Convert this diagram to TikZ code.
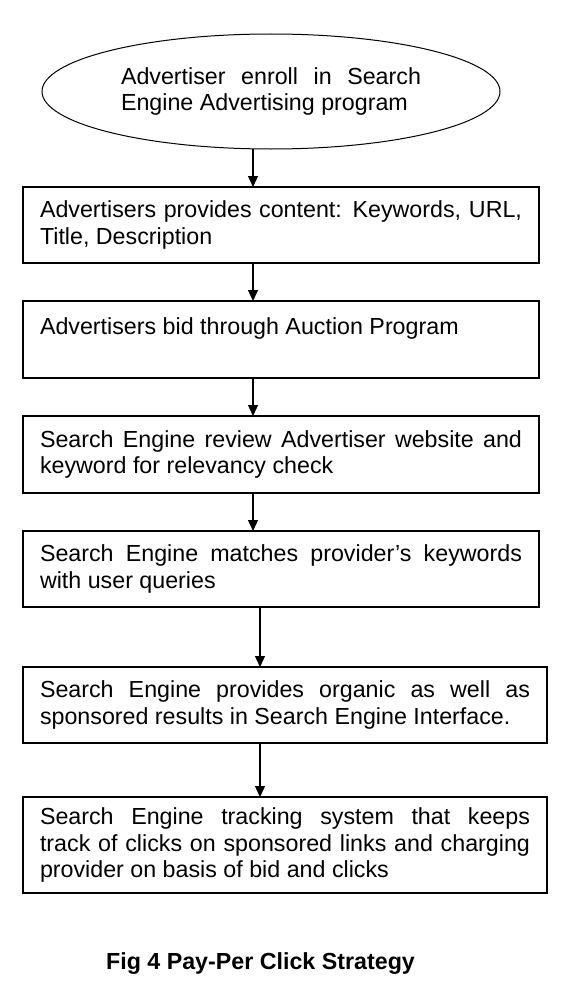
\documentclass[tikz,border=0pt]{standalone}
\usepackage{fontspec}
\setmainfont{Liberation Sans}
\usetikzlibrary{positioning,shapes.geometric,arrows.meta}
\hyphenpenalty=10000
\exhyphenpenalty=10000

\begin{document}
\begin{tikzpicture}[x=1pt, y=-1pt,
  stepbox/.style={rectangle, draw, line width=2pt, minimum width=516pt, minimum height=76pt,
                  text width=482pt, inner xsep=17pt, inner ysep=0pt, outer sep=0pt, align=justify,
                  font=\fontsize{23.25}{26.6}\selectfont},
  widebox/.style={stepbox, minimum width=524pt, text width=490pt},
  startnode/.style={ellipse, draw, line width=1pt, minimum width=458pt, minimum height=115pt,
                    inner sep=0pt, outer sep=0pt, text width=300pt, align=justify,
                    font=\fontsize{23.25}{26.6}\selectfont},
  arrow/.style={-{Triangle[length=11pt, width=10pt]}, line width=1.3pt},
]
\useasboundingbox (0,0) rectangle (581,990);

% Start ellipse
\node[startnode] (ell) at (271,91.5) {Advertiser enroll in Search\linebreak Engine Advertising program};

% Process boxes
\node[stepbox, below=38pt of ell, xshift=10pt] (b1) {Advertisers provides content: Keywords, URL,\linebreak Title, Description};
\node[stepbox, minimum height=77pt, below=38pt of b1] (b2) {Advertisers bid through Auction Program\\\mbox{}};
\node[stepbox, minimum height=77pt, below=38pt of b2] (b3) {Search Engine review Advertiser website and\linebreak keyword for relevancy check};
\node[stepbox, below=38pt of b3] (b4) {Search Engine matches provider’s keywords\linebreak with user queries};
\node[widebox, below=60pt of b4, xshift=4pt] (b5) {Search Engine provides organic as well as\linebreak sponsored results in Search Engine Interface.};
\node[widebox, minimum height=96pt, below=54pt of b5] (b6) {Search Engine tracking system that keeps\linebreak track of clicks on sponsored links and charging\linebreak provider on basis of bid and clicks};

% Arrows
\draw[arrow] ([xshift=-18pt]ell.south) -- ([xshift=-28pt]b1.north);
\draw[arrow] ([xshift=-28pt]b1.south) -- ([xshift=-28pt]b2.north);
\draw[arrow] ([xshift=-28pt]b2.south) -- ([xshift=-28pt]b3.north);
\draw[arrow] ([xshift=-28pt]b3.south) -- ([xshift=-28pt]b4.north);
\draw[arrow] ([xshift=-21pt]b4.south) -- ([xshift=-25pt]b5.north);
\draw[arrow] ([xshift=-25pt]b5.south) -- ([xshift=-25pt]b6.north);

% Caption
\node[font=\fontsize{23.25}{26.6}\selectfont\bfseries] (caption) at (260.5,964) {Fig 4 Pay-Per Click Strategy};

\end{tikzpicture}
\end{document}
